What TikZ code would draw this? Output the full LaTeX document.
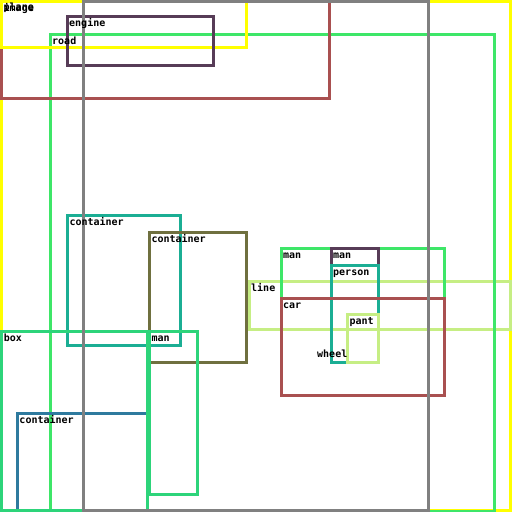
\documentclass[tikz,border=0pt]{standalone}
\usepackage{fontspec}
\setmonofont{DejaVu Sans Mono}
\definecolor{byel}{RGB}{255,255,0}
\definecolor{bgrey}{RGB}{128,128,128}
\definecolor{bred}{RGB}{169,80,80}
\definecolor{bplum}{RGB}{87,60,87}
\definecolor{bgreen}{RGB}{62,230,104}
\definecolor{bteal}{RGB}{27,174,148}
\definecolor{bolive}{RGB}{111,112,63}
\definecolor{blime}{RGB}{198,238,132}
\definecolor{bmint}{RGB}{45,212,122}
\definecolor{bblue}{RGB}{46,122,158}
\begin{document}
\begin{tikzpicture}[x=1pt,y=-1pt,bb/.style={line width=3pt},lbl/.style={anchor=base west,inner sep=0pt,font=\ttfamily\bfseries\fontsize{10}{10}\selectfont}]
\useasboundingbox[fill=white] (0,0) rectangle (512,512);
\def\boxlist{1.5/1.5/510.5/510.5/byel/image, 249/281.7/510.5/329.3/blime/line, 315/347/346.5/394/white/wheel,
 50/34.3/494.3/511/bgreen/road, 1.5/0/329/98.3/bred/plane, 1.5/1.5/246.7/47.5/byel/{}, 67/16.7/213.3/65/bplum/engine,
 67.3/215.3/180/345/bteal/container, 149.3/232.7/246.7/362/bolive/container, 281/248.3/444.7/298.7/bgreen/man,
 331/248.3/378.7/362/bplum/man, 331/265.3/378.7/362/bteal/person, 281/298.7/444.7/395/bred/car,
 347.3/314/378.7/362/blime/pant, 17.3/413.3/147.3/511/bblue/container, 1.7/331.3/147.3/510/bmint/box,
 149.3/331.3/197.7/494/bmint/man}
% boxes first, grey on top, then the labels
\foreach \X/\Y/\U/\V/\C/\T in \boxlist {\draw[bb,\C] (\X,\Y) rectangle (\U,\V);}
\draw[bb,bgrey] (83,1.5) rectangle (428.3,510.5);
\foreach \X/\Y/\U/\V/\C/\T [count=\N] in \boxlist {\path (\X,\Y) ++(2,10) node[lbl] (l\N) {\T};}
\end{tikzpicture}
\end{document}
